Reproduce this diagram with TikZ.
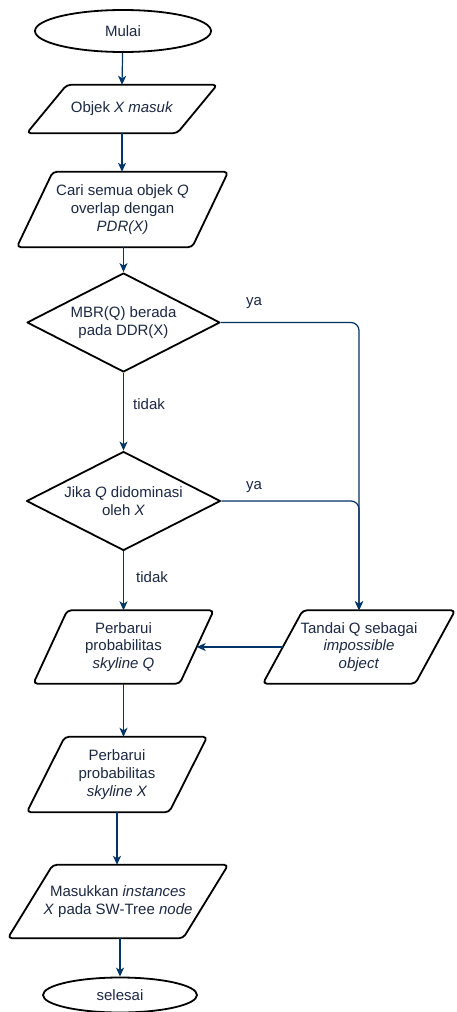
\documentclass[tikz,border=0pt]{standalone}
\usepackage{fontspec}
\setmainfont{Liberation Sans}
\usetikzlibrary{shapes.geometric,arrows.meta}
\definecolor{wire}{RGB}{0,51,102}
\definecolor{ink}{RGB}{28,40,66}

% slanted input/output box drawn around a named text node:
% #1 = node name, #2 = half of the horizontal slant
\newcommand\slantframe[2]{%
  \draw[frame, rounded corners=4pt]
    ([xshift=-#2pt]#1.south west) -- ([xshift=#2pt]#1.north west) --
    ([xshift=#2pt]#1.north east) -- ([xshift=-#2pt]#1.south east) -- cycle;}

\begin{document}
\begin{tikzpicture}[x=1pt,y=-1pt,
  every node/.style={text=ink, font=\fontsize{15}{17.7}\selectfont},
  frame/.style={draw=black, line width=1.8pt, line join=round},
  term/.style={ellipse, frame, inner sep=0pt},
  iobox/.style={rectangle, inner sep=0pt, align=center},
  decide/.style={diamond, frame, inner sep=0pt, aspect=1.95, align=center},
  flow/.style={draw=wire, line width=1.2pt, -{Stealth[length=9pt,width=8pt,inset=2.5pt]}},
  lbl/.style={anchor=west, inner sep=0pt}]

\fill[white] (0,0) rectangle (456,1012);
\useasboundingbox (0,0) rectangle (456,1012);

% terminals
\node[term, minimum width=176pt, minimum height=42pt] (start) at (123,31) {Mulai};
\node[term, minimum width=154pt, minimum height=35pt] (stop) at (120,995) {selesai};

% input/output steps
\node[iobox, minimum width=150pt, minimum height=48pt] (objek) at (122,109)
  {Objek \textit{X masuk}};
\node[iobox, minimum width=175pt, minimum height=75pt] (cari) at (122.5,209.5)
  {Cari semua objek \textit{Q}\\overlap dengan\\\textit{PDR(X)}};
\node[iobox, minimum width=146pt, minimum height=73pt] (pq) at (123.5,647)
  {Perbarui\\probabilitas\\\textit{skyline Q}};
\node[iobox, minimum width=152pt, minimum height=73pt] (tandai) at (359,647)
  {Tandai Q sebagai\\\textit{impossible}\\\textit{object}};
\node[iobox, minimum width=142pt, minimum height=75pt] (px) at (117,774.5)
  {Perbarui\\probabilitas\\\textit{skyline X}};
\node[iobox, minimum width=175pt, minimum height=73pt] (mk) at (118,901.5)
  {Masukkan \textit{instances}\\\textit{X} pada SW-Tree \textit{node}};

\slantframe{objek}{20}
\slantframe{cari}{18}
\slantframe{pq}{17}
\slantframe{tandai}{20}
\slantframe{px}{19}
\slantframe{mk}{22.5}

% decisions
\node[decide, minimum width=193pt, minimum height=99pt] (d1) at (123.5,322.5)
  {MBR(Q) berada\\pada DDR(X)};
\node[decide, minimum width=194pt, minimum height=99pt] (d2) at (123.5,501)
  {Jika \textit{Q} didominasi\\oleh \textit{X}};

% connectors
\draw[flow] (start) -- (objek.north);
\draw[flow] (objek.south) -- (objek.south |- cari.north);
\draw[flow] (cari.south) -- (cari.south -| d1.north) -- (d1.north);
\draw[flow] (d1.south) -- (d2.north);
\draw[flow] (d2.south) -- (d2.south |- pq.north);
\draw[flow, rounded corners=8pt] (d1.east) -| (tandai.north);
\draw[flow, rounded corners=8pt] (d2.east) -| (tandai.north);
\draw[flow] (tandai.west) -- (pq.east);
\draw[flow] (pq.south) -- (pq.south |- px.north);
\draw[flow] (px.south) -- (px.south |- mk.north);
\draw[flow] (stop.north |- mk.south) -- (stop.north);

% branch labels
\node[lbl] (ya1) at (246,303) {ya};
\node[lbl] (tidak1) at (133,404) {tidak};
\node[lbl] (ya2) at (246,487) {ya};
\node[lbl] (tidak2) at (136,577) {tidak};
\end{tikzpicture}
\end{document}
